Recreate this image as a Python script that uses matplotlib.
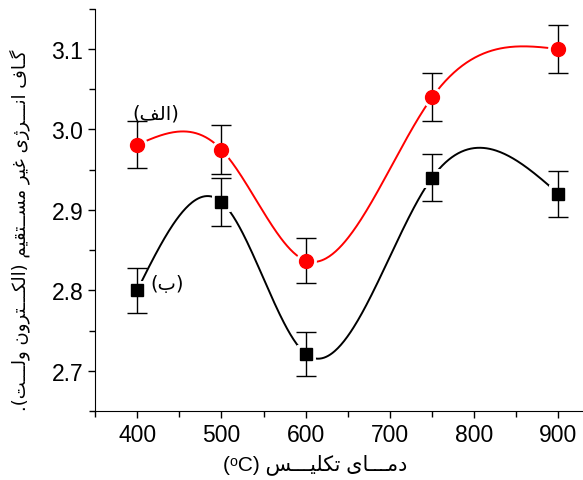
import numpy as np
import matplotlib
matplotlib.use('Agg')
import matplotlib.pyplot as plt
from matplotlib.ticker import MultipleLocator

# calcination temperature (C)
temps = np.array([400, 500, 600, 750, 900])
# indirect band gap (eV), series alef (red) and be (black)
gap_a = np.array([2.981, 2.975, 2.837, 3.040, 3.100])
err_a = np.array([0.029, 0.030, 0.028, 0.030, 0.030])
gap_b = np.array([2.800, 2.910, 2.721, 2.940, 2.920])
err_b = np.array([0.028, 0.030, 0.027, 0.029, 0.029])

xlabel_fa = 'دمـــای تکلیـــس'
ylabel_fa = 'گـاف انـــرژی غیر مســتقیم (الکـــترون ولـــت).'
label_a = '(الف)'
label_b = '(ب)'

# --- minimal Persian shaping (matplotlib has no bidi / joining) ---
DUAL = {
    'ب': (0xFE8F, 0xFE90, 0xFE91, 0xFE92), 'ت': (0xFE95, 0xFE96, 0xFE97, 0xFE98),
    'س': (0xFEB1, 0xFEB2, 0xFEB3, 0xFEB4), 'غ': (0xFECD, 0xFECE, 0xFECF, 0xFED0),
    'ف': (0xFED1, 0xFED2, 0xFED3, 0xFED4), 'ق': (0xFED5, 0xFED6, 0xFED7, 0xFED8),
    'ل': (0xFEDD, 0xFEDE, 0xFEDF, 0xFEE0), 'م': (0xFEE1, 0xFEE2, 0xFEE3, 0xFEE4),
    'ن': (0xFEE5, 0xFEE6, 0xFEE7, 0xFEE8), 'ی': (0xFBFC, 0xFBFD, 0xFBFE, 0xFBFF),
    'ک': (0xFB8E, 0xFB8F, 0xFB90, 0xFB91), 'گ': (0xFB92, 0xFB93, 0xFB94, 0xFB95),
}
RIGHT = {'ا': (0xFE8D, 0xFE8E), 'د': (0xFEA9, 0xFEAA), 'ر': (0xFEAD, 0xFEAE),
         'و': (0xFEED, 0xFEEE), 'ژ': (0xFB8A, 0xFB8B)}
TATWEEL = 'ـ'


def shape(s):
    out = []
    for i, c in enumerate(s):
        prev = s[i - 1] if i > 0 else ''
        nxt = s[i + 1] if i < len(s) - 1 else ''
        jp = prev in DUAL or prev == TATWEEL
        if c in DUAL:
            jn = nxt in DUAL or nxt in RIGHT or nxt == TATWEEL
            f = DUAL[c][(1 if jp else 0) if not jn else (3 if jp else 2)]
            out.append(chr(f))
        elif c in RIGHT:
            out.append(chr(RIGHT[c][1 if jp else 0]))
        else:
            out.append(c)
    vis = ''.join(reversed(out))
    return vis.replace('(', '\0').replace(')', '(').replace('\0', ')')


def natural_spline(x, y, xs):
    n = len(x)
    h = np.diff(x).astype(float)
    A = np.zeros((n, n))
    r = np.zeros(n)
    A[0, 0] = A[-1, -1] = 1
    for i in range(1, n - 1):
        A[i, i - 1] = h[i - 1]
        A[i, i] = 2 * (h[i - 1] + h[i])
        A[i, i + 1] = h[i]
        r[i] = 6 * ((y[i + 1] - y[i]) / h[i] - (y[i] - y[i - 1]) / h[i - 1])
    M = np.linalg.solve(A, r)
    idx = np.clip(np.searchsorted(x, xs) - 1, 0, n - 2)
    x0, x1 = x[idx], x[idx + 1]
    hh = x1 - x0
    a = (x1 - xs) / hh
    b = (xs - x0) / hh
    return a * y[idx] + b * y[idx + 1] + ((a**3 - a) * M[idx] + (b**3 - b) * M[idx + 1]) * hh**2 / 6


plt.rcParams['font.family'] = ['Liberation Sans', 'DejaVu Sans']

fig = plt.figure(figsize=(5.83, 4.81), dpi=100)
ax = fig.add_axes([0.163, 0.1435, 0.86, 0.836])

xs = np.linspace(temps[0], temps[-1], 400)
for y, e, col, mk, ms in [(gap_a, err_a, 'red', 'o', 10), (gap_b, err_b, 'black', 's', 8.5)]:
    ax.plot(xs, natural_spline(temps, y, xs), color=col, lw=1.4, zorder=1)
    ax.plot(temps, y, ls='none', marker=mk, ms=ms, mfc='white', mec='white', mew=5, zorder=2)
    ax.errorbar(temps, y, yerr=e, fmt='none', ecolor='black', elinewidth=1, capsize=7.5, capthick=1, zorder=3)
    ax.plot(temps, y, ls='none', marker=mk, ms=ms, mfc=col, mec=col, zorder=4)

ax.text(422, 3.021, shape(label_a), fontsize=14, ha='center', va='center', family='DejaVu Sans')
ax.text(435, 2.808, shape(label_b), fontsize=14, ha='center', va='center', family='DejaVu Sans')

ax.set_xlim(350, 945)
ax.set_ylim(2.65, 3.15)
ax.xaxis.set_major_locator(MultipleLocator(100))
ax.xaxis.set_minor_locator(MultipleLocator(50))
ax.yaxis.set_major_locator(MultipleLocator(0.1))
ax.yaxis.set_minor_locator(MultipleLocator(0.05))
ax.tick_params(which='major', direction='out', length=5, width=1, labelsize=16.5)
ax.tick_params(which='minor', direction='out', length=4, width=1)
ax.spines['top'].set_visible(False)
ax.spines['right'].set_visible(False)

fig.text(0.54, 0.035, '(ᵒC) ' + shape(xlabel_fa), fontsize=15, ha='center', va='center')
fig.text(0.034, 0.522, shape(ylabel_fa), fontsize=13, ha='center', va='center', rotation=90,
         family='DejaVu Sans')

fig.savefig('out.png', dpi=100)
